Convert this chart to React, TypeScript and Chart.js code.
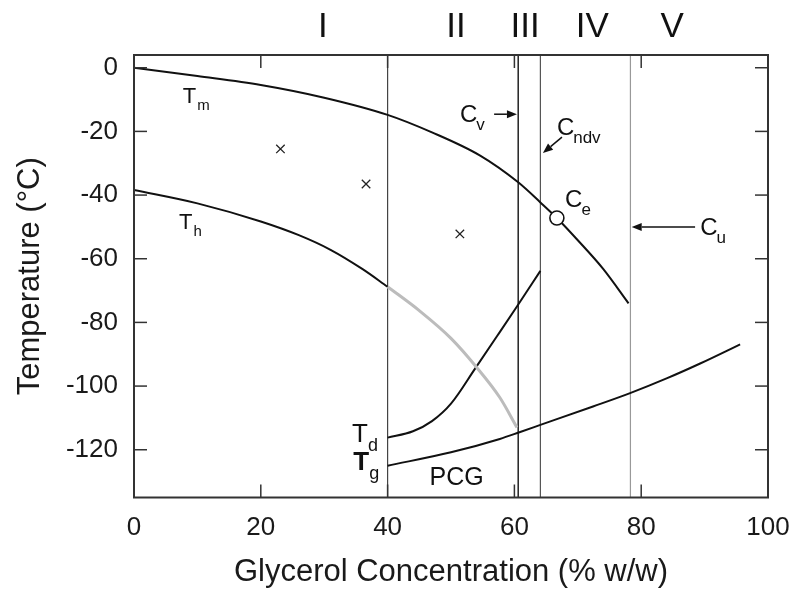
import React, { useEffect, useRef } from "react";
import { Chart, registerables } from "chart.js";

Chart.register(...registerables);

const FONT = '"Liberation Sans", Arial, Helvetica, sans-serif';

// ---- data ----
const xTicks = [0, 20, 40, 60, 80, 100];
const yTicks = [-120, -100, -80, -60, -40, -20, 0];

const tmX = [0, 10, 20, 30, 40, 47, 54.6, 60.6, 64.1, 66.7, 70, 74, 78];
const tmY = [0, -2.6, -5.4, -9.4, -14.8, -20.3, -27.6, -36.0, -42.3, -47.2, -54.2, -63.2, -74];

const thX = [0, 10, 20, 26, 31, 36, 40];
const thY = [-38.4, -42.6, -48.3, -52.6, -57.2, -63.2, -68.8];

const grayX = [40, 45, 50, 54, 57.7, 60.4];
const grayY = [-68.8, -76.3, -85.0, -94.0, -103.6, -113];

const tdX = [40, 44, 47, 50, 53.8, 57.3, 60.4, 64.1];
const tdY = [-116.2, -114.2, -111, -105.5, -94.5, -84.2, -75, -63.8];

const tgX = [40, 50, 57.7, 60.8, 64.1, 72.4, 78.25, 84.1, 89.3, 95.6];
const tgY = [-125, -120.8, -116.6, -114.5, -112.2, -106.4, -102.2, -97.5, -92.9, -86.9];

const markX = [23.1, 36.6, 51.4];
const markY = [-25.5, -36.5, -52.2];

const ceX = [66.7];
const ceY = [-47.2];

const boundaryX = [40, 60.6, 64.1, 78.3];
const boundaryColors = ["#444", "#222", "#555", "#999"];

const regionNames = ["I", "II", "III", "IV", "V"];
const regionX = [29.8, 50.8, 61.7, 72.3, 84.9];

const Y_MIN = -135;
const Y_MAX = 4;

const pts = (xs: number[], ys: number[]) => xs.map((v, i) => ({ x: v, y: ys[i] }));

// ---- annotation layout (data coords) ----
const subLabels = [
  { main: "T", sub: "m", x: 7.7, y: -11.1, size: 22, subSize: 15, gap: 4, bold: false },
  { main: "T", sub: "h", x: 7.1, y: -50.7, size: 22, subSize: 15, gap: 4, bold: false },
  { main: "C", sub: "v", x: 51.4, y: -17.1, size: 24, subSize: 17, gap: 2, bold: false },
  { main: "C", sub: "ndv", x: 66.7, y: -21.2, size: 24, subSize: 17, gap: 2, bold: false },
  { main: "C", sub: "e", x: 68.0, y: -43.8, size: 24, subSize: 17, gap: 2, bold: false },
  { main: "C", sub: "u", x: 89.3, y: -52.6, size: 24, subSize: 17, gap: 2, bold: false },
  { main: "T", sub: "d", x: 34.4, y: -117.6, size: 26, subSize: 18, gap: 3, bold: false },
  { main: "T", sub: "g", x: 34.6, y: -126.4, size: 26, subSize: 18, gap: 3, bold: true },
];

const arrows = [
  { x1: 56.8, y1: -14.6, x2: 60.4, y2: -14.6 },
  { x1: 67.5, y1: -21.8, x2: 64.5, y2: -26.8 },
  { x1: 88.5, y1: -50.0, x2: 78.5, y2: -50.0 },
];

const overlayPlugin = {
  id: "overlay",
  afterDraw(chart: any) {
    const { ctx, chartArea: a, scales } = chart;
    const xs = scales.x;
    const ys = scales.y;
    ctx.save();
    ctx.strokeStyle = "#333";
    ctx.lineWidth = 1.5;
    const L = 13;
    const seg = (x1: number, y1: number, x2: number, y2: number) => {
      ctx.beginPath();
      ctx.moveTo(x1, y1);
      ctx.lineTo(x2, y2);
      ctx.stroke();
    };
    xTicks.forEach((v) => {
      const px = xs.getPixelForValue(v);
      seg(px, a.bottom, px, a.bottom - L);
      seg(px, a.top, px, a.top + L);
    });
    yTicks.forEach((v) => {
      const py = ys.getPixelForValue(v);
      seg(a.left, py, a.left + L, py);
      seg(a.right, py, a.right - L, py);
    });
    ctx.lineWidth = 2;
    ctx.strokeStyle = "#333";
    ctx.strokeRect(a.left, a.top, a.right - a.left, a.bottom - a.top);

    // labels with subscripts
    ctx.fillStyle = "#111";
    ctx.textBaseline = "alphabetic";
    ctx.textAlign = "left";
    subLabels.forEach((l) => {
      const px = xs.getPixelForValue(l.x);
      const py = ys.getPixelForValue(l.y);
      ctx.font = `${l.bold ? "bold " : ""}${l.size}px ${FONT}`;
      ctx.fillText(l.main, px, py);
      const w = ctx.measureText(l.main).width;
      ctx.font = `${l.subSize}px ${FONT}`;
      ctx.fillText(l.sub, px + w + l.gap - 3, py + l.size * 0.33);
    });

    // PCG
    ctx.font = `25px ${FONT}`;
    ctx.textAlign = "center";
    ctx.fillText("PCG", xs.getPixelForValue(50.9), ys.getPixelForValue(-131.1));

    // region labels
    ctx.font = `35px ${FONT}`;
    regionNames.forEach((n, i) => {
      ctx.fillText(n, xs.getPixelForValue(regionX[i]), ys.getPixelForValue(9.6));
    });

    // arrows
    ctx.strokeStyle = "#111";
    ctx.fillStyle = "#111";
    ctx.lineWidth = 1.5;
    arrows.forEach((ar) => {
      const x1 = xs.getPixelForValue(ar.x1);
      const y1 = ys.getPixelForValue(ar.y1);
      const x2 = xs.getPixelForValue(ar.x2);
      const y2 = ys.getPixelForValue(ar.y2);
      const ang = Math.atan2(y2 - y1, x2 - x1);
      const hl = 10;
      const hw = 4;
      const bx = x2 - hl * Math.cos(ang);
      const by = y2 - hl * Math.sin(ang);
      seg(x1, y1, bx, by);
      ctx.beginPath();
      ctx.moveTo(x2, y2);
      ctx.lineTo(bx + hw * Math.sin(ang), by - hw * Math.cos(ang));
      ctx.lineTo(bx - hw * Math.sin(ang), by + hw * Math.cos(ang));
      ctx.closePath();
      ctx.fill();
    });
    ctx.restore();
  },
};

export default function App() {
  const ref = useRef<HTMLCanvasElement | null>(null);
  useEffect(() => {
    if (!ref.current) return;
    const curve = (xs: number[], ys: number[], color: string, width: number) => ({
      type: "line" as const,
      data: pts(xs, ys),
      borderColor: color,
      borderWidth: width,
      pointRadius: 0,
      fill: false,
      cubicInterpolationMode: "monotone" as const,
      order: 5,
    });
    const datasets: any[] = [
      ...boundaryX.map((bx, i) => ({
        type: "line",
        data: [
          { x: bx, y: Y_MIN },
          { x: bx, y: Y_MAX },
        ],
        borderColor: boundaryColors[i],
        borderWidth: i === 1 ? 1.5 : 1.2,
        pointRadius: 0,
        fill: false,
        order: 10,
      })),
      curve(grayX, grayY, "#bcbcbc", 3),
      curve(tmX, tmY, "#111", 2),
      curve(thX, thY, "#111", 2),
      curve(tdX, tdY, "#111", 2),
      curve(tgX, tgY, "#111", 2),
      {
        type: "scatter",
        data: pts(markX, markY),
        pointStyle: "crossRot",
        pointRadius: 6,
        borderColor: "#222",
        borderWidth: 1.3,
        order: 1,
      },
      {
        type: "scatter",
        data: pts(ceX, ceY),
        pointStyle: "circle",
        pointRadius: 7,
        backgroundColor: "#fff",
        borderColor: "#111",
        borderWidth: 1.6,
        order: 0,
      },
    ];
    const chart = new Chart(ref.current, {
      type: "scatter",
      data: { datasets },
      options: {
        animation: false,
        responsive: false,
        events: [],
        layout: { padding: { top: 55, right: 24, left: 0, bottom: 0 } },
        plugins: { legend: { display: false }, tooltip: { enabled: false } },
        scales: {
          x: {
            type: "linear",
            min: 0,
            max: 100,
            afterBuildTicks: (s: any) => {
              s.ticks = xTicks.map((v) => ({ value: v }));
            },
            afterFit: (s: any) => {
              s.height = 97.5;
              s.paddingLeft = 0;
              s.paddingRight = 0;
            },
            grid: { display: false, drawTicks: false },
            border: { display: false },
            ticks: { font: { family: FONT, size: 26 }, color: "#1a1a1a", padding: 15, maxRotation: 0 },
            title: {
              display: true,
              text: "Glycerol Concentration (% w/w)",
              font: { family: FONT, size: 31 },
              color: "#1a1a1a",
              padding: { top: 0, bottom: 4 },
            },
          },
          y: {
            type: "linear",
            min: Y_MIN,
            max: Y_MAX,
            afterBuildTicks: (s: any) => {
              s.ticks = yTicks.map((v) => ({ value: v }));
            },
            afterFit: (s: any) => {
              s.width = 134;
              s.paddingTop = 0;
              s.paddingBottom = 0;
            },
            grid: { display: false, drawTicks: false },
            border: { display: false },
            ticks: { font: { family: FONT, size: 26 }, color: "#1a1a1a", padding: 16 },
            title: {
              display: true,
              text: "Temperature (°C)",
              font: { family: FONT, size: 31 },
              color: "#1a1a1a",
              padding: { top: 12, bottom: 0 },
            },
          },
        },
      },
      plugins: [overlayPlugin],
    } as any);
    return () => chart.destroy();
  }, []);
  return (
    <div style={{ position: "absolute", left: 0, top: 0, width: 792, height: 595, background: "#fff" }}>
      <canvas ref={ref} width={792} height={595} style={{ display: "block" }} />
    </div>
  );
}
